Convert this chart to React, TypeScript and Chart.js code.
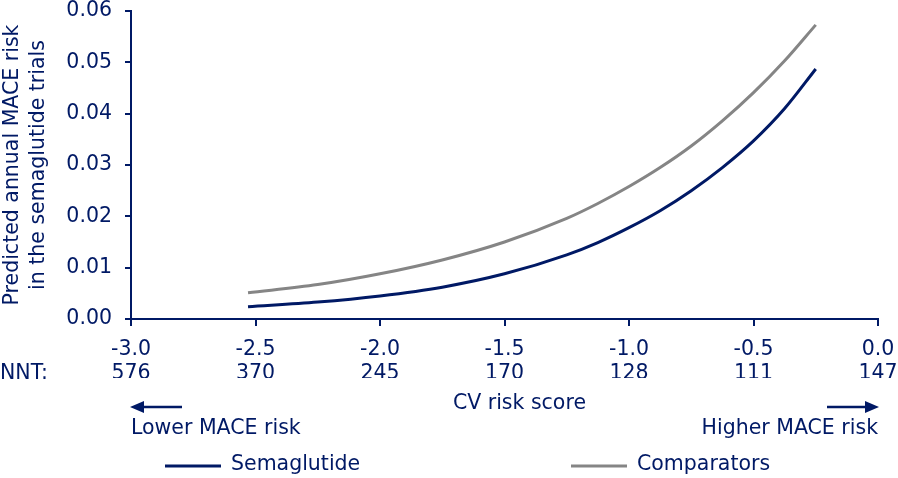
import React, { useEffect, useRef } from "react";
import { Chart, registerables } from "chart.js";

Chart.register(...registerables);

const NAVY = "#001965";
const GRAY = "#858585";
const FONT = "'DejaVu Sans', Verdana, sans-serif";
const FS = 20.5;

const xValues = [-2.53, -2.25, -2.0, -1.75, -1.5, -1.25, -1.125, -1.0, -0.875, -0.75, -0.625, -0.5, -0.375, -0.25];
const semaglutide = [0.0024, 0.0033, 0.0045, 0.0062, 0.0088, 0.0125, 0.0149, 0.0178, 0.0211, 0.0250, 0.0295, 0.0347, 0.0410, 0.0487];
const comparators = [0.0051, 0.0067, 0.0088, 0.0115, 0.0150, 0.0196, 0.0225, 0.0258, 0.0295, 0.0337, 0.0386, 0.0441, 0.0503, 0.0573];
const xTickValues = [-3.0, -2.5, -2.0, -1.5, -1.0, -0.5, 0.0];
const nntLabels = ["576", "370", "245", "170", "128", "111", "147"];
const seriesNames = ["Semaglutide", "Comparators"];

const annotations = {
  id: "annotations",
  afterDraw(chart: any) {
    const ctx = chart.ctx as CanvasRenderingContext2D;
    const area = chart.chartArea;
    ctx.save();
    ctx.font = `${FS}px ${FONT}`;
    ctx.fillStyle = NAVY;
    ctx.strokeStyle = NAVY;
    ctx.textBaseline = "middle";

    // NNT label
    ctx.textAlign = "left";
    ctx.fillText("NNT:", 0, 374);

    // x title
    ctx.textAlign = "center";
    ctx.fillText("CV risk score", area.left + (area.right - area.left) * 0.52, 404);

    // arrows
    ctx.lineWidth = 2.5;
    ctx.beginPath();
    ctx.moveTo(area.left + 51, 407);
    ctx.lineTo(area.left + 8, 407);
    ctx.stroke();
    ctx.beginPath();
    ctx.moveTo(area.left - 1, 407);
    ctx.lineTo(area.left + 13, 401);
    ctx.lineTo(area.left + 13, 413);
    ctx.closePath();
    ctx.fill();

    ctx.beginPath();
    ctx.moveTo(area.right - 51, 407);
    ctx.lineTo(area.right - 8, 407);
    ctx.stroke();
    ctx.beginPath();
    ctx.moveTo(area.right + 1, 407);
    ctx.lineTo(area.right - 13, 401);
    ctx.lineTo(area.right - 13, 413);
    ctx.closePath();
    ctx.fill();

    ctx.textAlign = "left";
    ctx.fillText("Lower MACE risk", area.left, 429);
    ctx.textAlign = "right";
    ctx.fillText("Higher MACE risk", area.right, 429);

    // legend
    const items = [
      { name: seriesNames[0], color: NAVY, x: 165 },
      { name: seriesNames[1], color: GRAY, x: 571 },
    ];
    ctx.textAlign = "left";
    items.forEach((it) => {
      ctx.strokeStyle = it.color;
      ctx.lineWidth = 3;
      ctx.beginPath();
      ctx.moveTo(it.x, 466);
      ctx.lineTo(it.x + 56, 466);
      ctx.stroke();
      ctx.fillStyle = NAVY;
      ctx.fillText(it.name, it.x + 66, 465);
    });
    ctx.restore();
  },
};

export default function App() {
  const ref = useRef<HTMLCanvasElement | null>(null);
  useEffect(() => {
    if (!ref.current) return;
    const chart = new Chart(ref.current, {
      type: "line",
      data: {
        datasets: [
          {
            label: seriesNames[0],
            data: xValues.map((x, i) => ({ x, y: semaglutide[i] })),
            borderColor: NAVY,
            borderWidth: 3,
            pointRadius: 0,
            cubicInterpolationMode: "monotone",
            fill: false,
          },
          {
            label: seriesNames[1],
            data: xValues.map((x, i) => ({ x, y: comparators[i] })),
            borderColor: GRAY,
            borderWidth: 3,
            pointRadius: 0,
            cubicInterpolationMode: "monotone",
            fill: false,
          },
        ],
      },
      options: {
        animation: false,
        responsive: false,
        devicePixelRatio: 1,
        layout: { padding: { left: 0, right: 20, top: 11, bottom: 100 } },
        plugins: { legend: { display: false }, tooltip: { enabled: false } },
        scales: {
          x: {
            type: "linear",
            min: -3,
            max: 0,
            afterBuildTicks: (axis: any) => {
              axis.ticks = xTickValues.map((v) => ({ value: v }));
            },
            afterFit: (scale: any) => {
              scale.height = 59;
              scale.paddingLeft = 0;
              scale.paddingRight = 0;
            },
            ticks: {
              autoSkip: false,
              maxRotation: 0,
              color: NAVY,
              padding: 11,
              font: { family: FONT, size: FS, lineHeight: 1.2 },
              callback: (value: any) => {
                const v = Number(value);
                const i = xTickValues.findIndex((t) => Math.abs(t - v) < 1e-6);
                return [v.toFixed(1), i >= 0 ? nntLabels[i] : ""];
              },
            },
            grid: {
              display: true,
              drawOnChartArea: false,
              drawTicks: true,
              tickLength: 7,
              color: NAVY,
              lineWidth: 2,
            },
            border: { display: true, color: NAVY, width: 2 },
          },
          y: {
            min: 0,
            max: 0.06,
            afterFit: (scale: any) => {
              scale.width = 131;
              scale.paddingTop = 0;
              scale.paddingBottom = 0;
            },
            ticks: {
              stepSize: 0.01,
              color: NAVY,
              padding: 13,
              font: { family: FONT, size: FS },
              callback: (value: any) => Number(value).toFixed(2),
            },
            grid: {
              display: true,
              drawOnChartArea: false,
              drawTicks: true,
              tickLength: 6,
              color: NAVY,
              lineWidth: 2,
            },
            border: { display: true, color: NAVY, width: 2 },
            title: {
              display: true,
              text: ["Predicted annual MACE risk", "in the semaglutide trials"],
              color: NAVY,
              font: { family: FONT, size: FS, lineHeight: 1.25 },
              padding: { top: 0, bottom: 4 },
            },
          },
        },
      },
      plugins: [annotations],
    });
    return () => chart.destroy();
  }, []);
  return (
    <div style={{ position: "fixed", left: 0, top: 0, width: 898, height: 478, background: "#fff" }}>
      <canvas ref={ref} width={898} height={478} />
    </div>
  );
}
